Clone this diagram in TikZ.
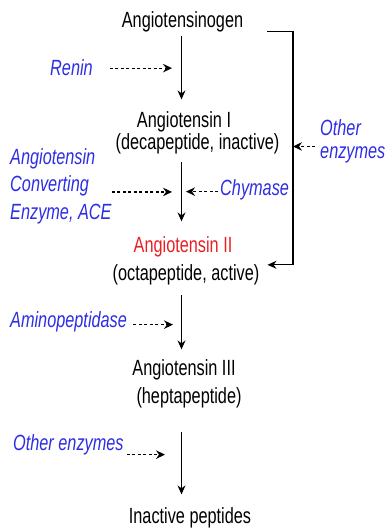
\documentclass[tikz,border=0pt]{standalone}
\usepackage{fontspec}
\setmainfont{Liberation Sans}[FakeStretch=0.74]
\usepackage{xcolor}
\usetikzlibrary{arrows.meta}
\definecolor{enzblue}{RGB}{45,45,228}
\definecolor{agred}{RGB}{232,32,36}

\begin{document}
\begin{tikzpicture}[x=1pt, y=-1pt,
    chem/.style={anchor=base, inner sep=0pt, font=\fontsize{22}{22}\selectfont},
    enz/.style={anchor=base west, inner sep=0pt, align=left, text=enzblue, font=\fontsize{22}{22}\selectfont\itshape},
    arrow/.style={-{Stealth[length=9pt, width=8pt, inset=3pt]}, line width=1.2pt},
    enzarrow/.style={-{Stealth[length=9pt, width=8.5pt, inset=3pt]}, line width=1.2pt, dash pattern=on 3pt off 2.5pt}
]
\useasboundingbox (0,0) rectangle (387,529);
\coordinate (spine) at (181.5,0);
\coordinate (brk) at (293,0);

% peptides along the pathway
\node[chem] (agen) at (182.5,28) {Angiotensinogen};
\node[chem] (ang1) at (184,127.5) {Angiotensin I};
\node[chem] (ang1txt) at (197.5,149.5) {(decapeptide, inactive)};
\node[chem, text=agred] (ang2) at (183,252) {Angiotensin II};
\node[chem] (ang2txt) at (186,280) {(octapeptide, active)};
\node[chem] (ang3) at (184,375) {Angiotensin III};
\node[chem] (ang3txt) at (189,403) {(heptapeptide)};
\node[chem] (inact) at (190,523) {Inactive peptides};

% enzymes
\node[enz] (renin) at (50,76) {Renin};
\node[enz, anchor=north west, font=\fontsize{22}{27.5}\selectfont\itshape] (ace) at (10,148) {Angiotensin\\Converting\\Enzyme, ACE};
\node[enz] (chymase) at (220,196) {Chymase};
\node[enz] (amino) at (10,327) {Aminopeptidase};
\node[enz] (othleft) at (13,450) {Other enzymes};
\node[enz, anchor=north west, font=\fontsize{22}{23}\selectfont\itshape] (othright) at (320,119) {Other\\enzymes};

% main conversions
\draw[arrow, shorten <=3.6pt, shorten >=12pt] (agen.south -| spine) -- (ang1.north -| spine);
\draw[arrow, shorten <=8.1pt, shorten >=14.5pt] (ang1txt.south -| spine) -- (ang2.north -| spine);
\draw[arrow, shorten <=10.6pt, shorten >=9.5pt] (ang2txt.south -| spine) -- (ang3.north -| spine);
\draw[arrow, shorten <=24.6pt, shorten >=12.5pt] (ang3txt.south -| spine) -- (inact.north -| spine);

% bypass from angiotensinogen straight to angiotensin II
\draw[arrow, shorten >=8pt] (agen.east) ++(24,9) -| ([yshift=9.5pt]brk |- ang2txt.east) -- ([yshift=9.5pt]ang2txt.east);

% enzyme actions
\draw[enzarrow, shorten <=17pt, shorten >=9.5pt] (renin.east) -- (renin.east -| spine);
\draw[enzarrow, shorten >=9.5pt] ([yshift=-6pt]ace.east) -- ([yshift=-6pt]ace.east -| spine);
\draw[enzarrow, shorten <=2pt, shorten >=4.5pt] ([yshift=-1.3pt]chymase.west) -- ([yshift=-1.3pt]chymase.west -| spine);
\draw[enzarrow, shorten <=6pt, shorten >=8.5pt] ([yshift=-3.3pt]amino.east) -- ([yshift=-3.3pt]amino.east -| spine);
\draw[enzarrow, shorten <=3pt, shorten >=16.5pt] ([yshift=-10.3pt]othleft.east) -- ([yshift=-10.3pt]othleft.east -| spine);
\draw[enzarrow, shorten <=5pt] ([yshift=-5.5pt]othright.west) -- ([yshift=-5.5pt]othright.west -| brk);
\end{tikzpicture}
\end{document}
